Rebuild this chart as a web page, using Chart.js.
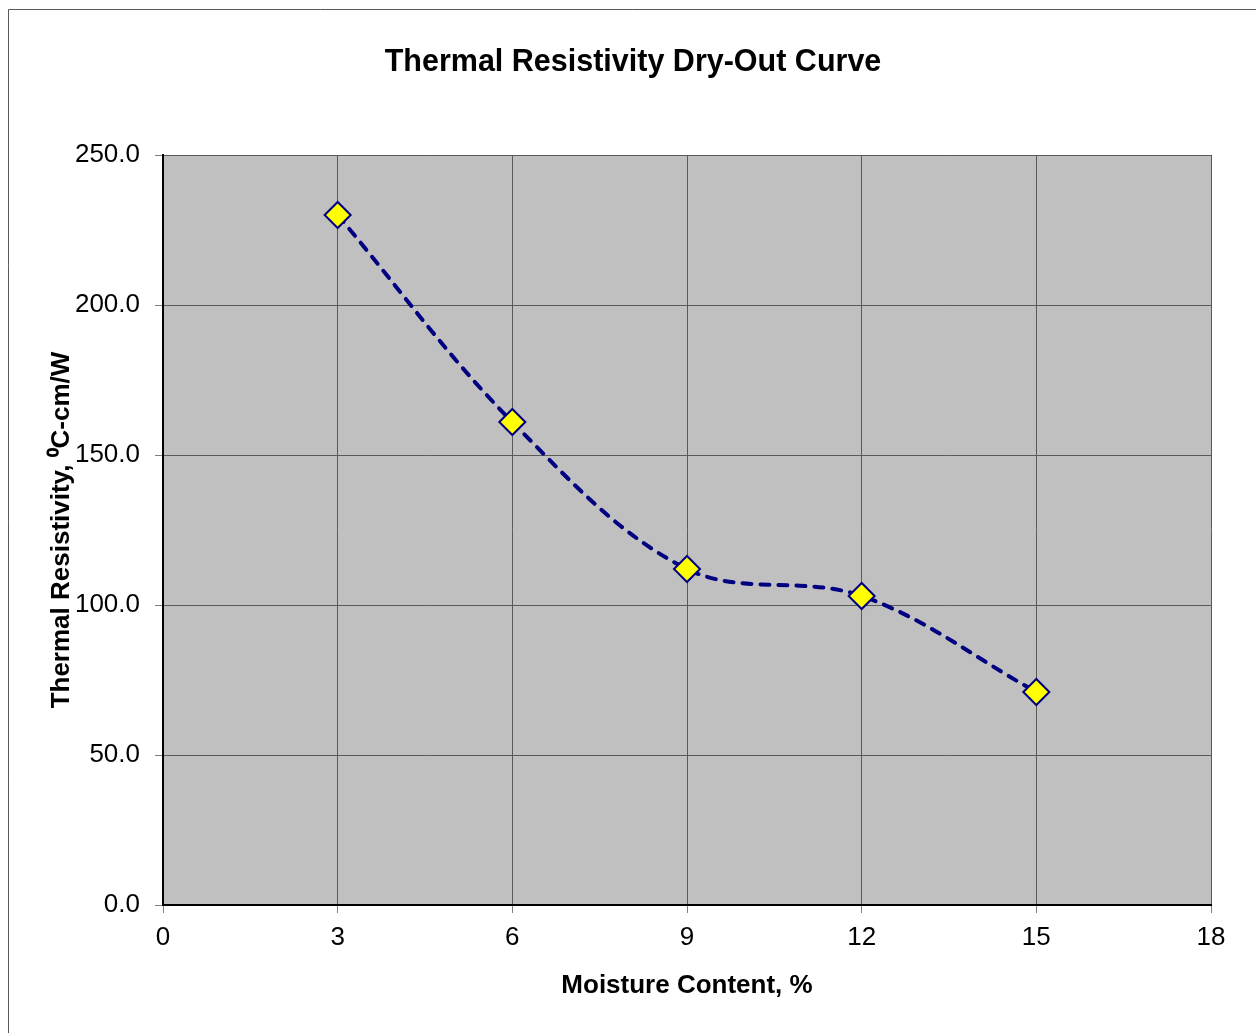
<!DOCTYPE html>
<html>
<head>
<meta charset="utf-8">
<script src="https://cdn.jsdelivr.net/npm/chart.js@4/dist/chart.umd.min.js"></script>
<style>
  html, body { margin: 0; padding: 0; background: #ffffff; }
  canvas { display: block; }
</style>
</head>
<body>
<canvas id="chart" width="1256" height="1033"></canvas>
<script>
// Moisture content (%) and measured thermal resistivity (°C-cm/W)
const moisture = [3, 6, 9, 12, 15];
const resistivity = [230, 161, 112, 103, 71];

const xTicks = [0, 3, 6, 9, 12, 15, 18];
const yTicks = [0, 50, 100, 150, 200, 250];

const chartTitle = 'Thermal Resistivity Dry-Out Curve';
const xTitle = 'Moisture Content, %';
const yTitle = 'Thermal Resistivity, \u2070C-cm/W';

const FONT = '"Liberation Sans", Arial, Helvetica, sans-serif';
const GRID = '#5a5a5a';

// White page, outer frame and grey plot background
const backdrop = {
  id: 'backdrop',
  beforeDraw(chart) {
    const { ctx, chartArea: a, width, height } = chart;
    ctx.save();
    ctx.fillStyle = '#ffffff';
    ctx.fillRect(0, 0, width, height);
    ctx.strokeStyle = '#595959';
    ctx.lineWidth = 1;
    ctx.beginPath();
    ctx.moveTo(8.5, height);
    ctx.lineTo(8.5, 9.5);
    ctx.lineTo(width, 9.5);
    ctx.stroke();
    ctx.fillStyle = '#c0c0c0';
    ctx.fillRect(a.left, a.top, a.right - a.left, a.bottom - a.top);
    ctx.restore();
  }
};

new Chart(document.getElementById('chart'), {
  type: 'line',
  data: {
    datasets: [{
      data: moisture.map((m, i) => ({ x: m, y: resistivity[i] })),
      borderColor: '#000080',
      borderWidth: 4,
      borderDash: [9, 9],
      borderCapStyle: 'round',
      tension: 0.35,
      pointStyle: 'rectRot',
      pointRadius: 13,
      pointHoverRadius: 13,
      pointBackgroundColor: '#ffff00',
      pointBorderColor: '#000080',
      pointBorderWidth: 2,
      fill: false
    }]
  },
  options: {
    responsive: false,
    animation: false,
    devicePixelRatio: 1,
    layout: { padding: { left: 10, right: 0, top: 0, bottom: 0 } },
    plugins: {
      legend: { display: false },
      tooltip: { enabled: false },
      title: {
        display: true,
        text: chartTitle,
        color: '#000000',
        font: { family: FONT, size: 30.5, weight: 'bold' },
        padding: { top: 44.5, bottom: 73.9 }
      }
    },
    scales: {
      x: {
        type: 'linear',
        min: xTicks[0],
        max: xTicks[xTicks.length - 1],
        afterBuildTicks: s => { s.ticks = xTicks.map(v => ({ value: v })); },
        afterFit: s => { s.height = 128; },
        ticks: {
          color: '#000000',
          font: { family: FONT, size: 26 },
          padding: 9,
          maxRotation: 0,
          autoSkip: false
        },
        grid: { color: GRID, lineWidth: 1, tickLength: 8, tickColor: '#808080' },
        border: { display: true, color: '#000000', width: 2 },
        title: {
          display: true,
          text: xTitle,
          color: '#000000',
          font: { family: FONT, size: 26, weight: 'bold' },
          padding: { top: 0, bottom: 32 }
        }
      },
      y: {
        type: 'linear',
        position: 'left',
        min: yTicks[0],
        max: yTicks[yTicks.length - 1],
        afterBuildTicks: s => { s.ticks = yTicks.map(v => ({ value: v })); },
        afterFit: s => { s.width = 153; },
        ticks: {
          color: '#000000',
          font: { family: FONT, size: 26 },
          padding: 15,
          callback: v => Number(v).toFixed(1)
        },
        grid: { color: GRID, lineWidth: 1, tickLength: 8, tickColor: '#808080' },
        border: { display: true, color: '#000000', width: 2 },
        title: {
          display: true,
          text: yTitle,
          color: '#000000',
          font: { family: FONT, size: 26, weight: 'bold' },
          padding: { top: 36, bottom: 0 }
        }
      },
      spacer: {
        type: 'linear',
        position: 'right',
        display: true,
        afterFit: s => { s.width = 45; },
        ticks: { display: false },
        grid: { display: false, drawTicks: false },
        border: { display: false }
      }
    }
  },
  plugins: [backdrop]
});
</script>
</body>
</html>
